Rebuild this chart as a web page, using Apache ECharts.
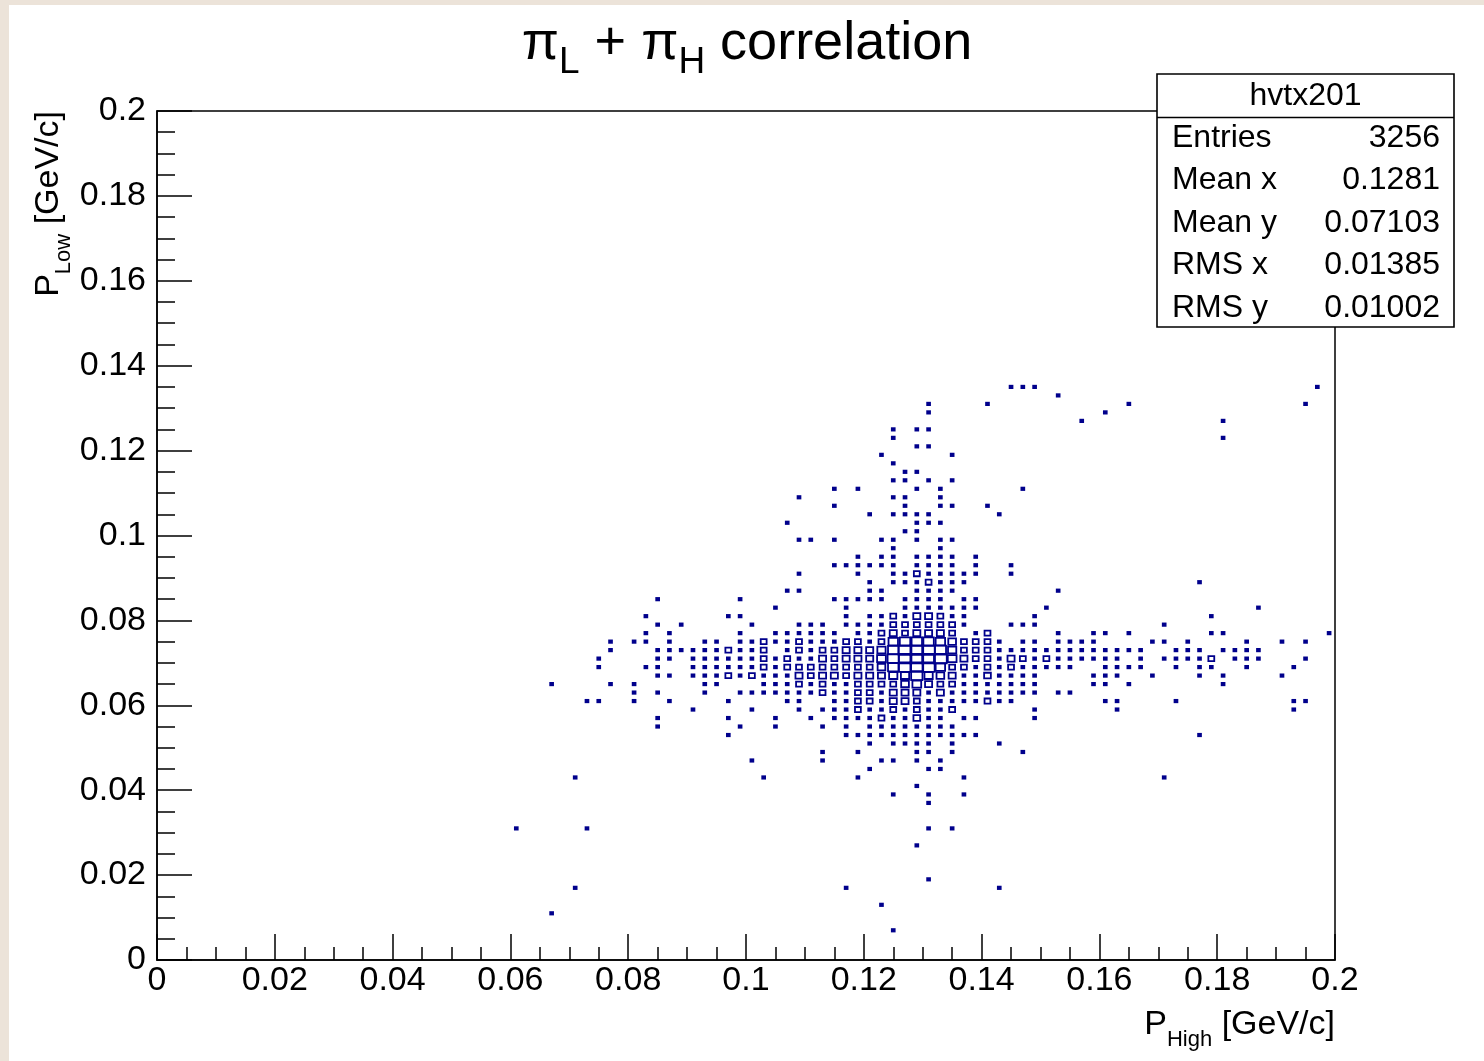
<!DOCTYPE html>
<html>
<head>
<meta charset="utf-8">
<title>pi_L + pi_H correlation</title>
<script src="https://cdn.jsdelivr.net/npm/echarts@6/dist/echarts.min.js"></script>
<style>
  html, body { margin: 0; padding: 0; background: #fff; }
  #main { width: 1484px; height: 1061px; }
</style>
</head>
<body>
<div id="main"></div>
<script>
const FONT = '"Liberation Sans", Arial, Helvetica, sans-serif';
const NAVY = '#00008c';

// 2D histogram hvtx201: 100 x 100 bins on [0, 0.2] x [0, 0.2] GeV/c
const binWidth = 0.002;
const zMax = 50; // content of the fullest cell

// cells with one entry, per P_Low bin: [iy, [ix, ...]]
const singleCells = [
  [67, [72, 73, 74, 98]],
  [66, [76]],
  [65, [65, 70, 82, 97]],
  [64, [65, 80]],
  [63, [78, 90]],
  [62, [62, 64, 65]],
  [61, [62, 90]],
  [60, [64, 65]],
  [59, [61, 67]],
  [58, [62]],
  [57, [63, 64]],
  [56, [62, 63, 65, 67]],
  [55, [57, 59, 64, 66, 73]],
  [54, [54, 62, 63, 66]],
  [53, [57, 63, 66, 67, 70]],
  [52, [60, 62, 63, 64, 65, 71]],
  [51, [53, 64, 65, 66]],
  [50, [63, 64]],
  [49, [54, 55, 57, 61, 62, 64, 66, 67]],
  [48, [62, 66]],
  [47, [59, 61, 62, 64, 65, 66, 67, 69]],
  [46, [57, 58, 59, 60, 61, 62, 64, 65, 66, 67, 69, 72]],
  [45, [54, 59, 62, 63, 65, 66, 67, 68, 69, 72]],
  [44, [60, 62, 63, 64, 66, 67, 68, 88]],
  [43, [53, 54, 60, 61, 64, 65, 66, 67, 76]],
  [42, [42, 49, 57, 58, 59, 60, 61, 63, 64, 65, 66, 68, 69]],
  [41, [52, 58, 63, 64, 65, 66, 67, 68, 69, 75, 93]],
  [40, [41, 48, 49, 58, 60, 61, 63, 67, 68, 74, 89]],
  [39, [42, 44, 50, 54, 55, 56, 58, 59, 60, 61, 68, 72, 73, 74, 85]],
  [38, [41, 43, 49, 52, 53, 54, 55, 56, 57, 59, 60, 69, 76, 79, 80, 82, 89, 90, 99]],
  [37, [38, 40, 41, 43, 46, 47, 49, 50, 52, 53, 55, 56, 57, 60, 71, 73, 74, 76, 77, 78, 79, 84, 85, 87, 92, 95, 97]],
  [36, [38, 42, 43, 44, 45, 46, 47, 49, 50, 53, 55, 71, 72, 73, 74, 75, 76, 77, 78, 79, 80, 81, 82, 83, 86, 87, 88, 90, 91, 92, 93]],
  [35, [37, 42, 43, 45, 46, 47, 48, 49, 50, 52, 54, 55, 71, 74, 76, 77, 78, 79, 80, 81, 83, 85, 86, 87, 88, 91, 92, 93, 97]],
  [34, [37, 41, 42, 45, 46, 47, 48, 49, 50, 52, 69, 71, 73, 74, 75, 76, 77, 80, 81, 82, 83, 86, 88, 89, 92, 96]],
  [33, [42, 43, 45, 46, 47, 49, 51, 52, 53, 68, 69, 71, 72, 73, 74, 79, 80, 81, 84, 88, 90, 95]],
  [32, [33, 38, 40, 46, 47, 51, 52, 53, 55, 57, 58, 68, 69, 70, 71, 72, 73, 74, 79, 80, 82, 90]],
  [31, [40, 42, 46, 49, 50, 51, 52, 53, 54, 55, 57, 58, 61, 65, 67, 68, 69, 70, 71, 72, 73, 74, 76, 77]],
  [30, [36, 37, 40, 43, 48, 53, 54, 57, 58, 61, 65, 66, 67, 68, 69, 71, 72, 80, 81, 86, 96, 97]],
  [29, [45, 50, 54, 56, 57, 58, 60, 61, 63, 65, 66, 74, 81, 96]],
  [28, [42, 48, 52, 55, 57, 58, 59, 60, 62, 63, 65, 66, 68, 69, 74]],
  [27, [42, 49, 52, 56, 58, 60, 61, 62, 63, 64, 65, 66, 67]],
  [26, [48, 58, 59, 60, 61, 62, 63, 64, 65, 66, 67, 68, 69, 88]],
  [25, [60, 62, 63, 64, 65, 67, 71]],
  [24, [56, 59, 64, 65, 67, 73]],
  [23, [50, 56, 61, 62, 64, 66]],
  [22, [60, 65, 66]],
  [21, [35, 51, 59, 68, 85]],
  [20, [64]],
  [19, [62, 65, 68]],
  [18, [65]],
  [15, [30, 36, 65, 67]],
  [13, [64]],
  [9, [65]],
  [8, [35, 58, 71]],
  [6, [61]],
  [5, [33]],
  [3, [62]]
];

// cells with several entries: [iy, [[ix, entries], ...]]
const multiCells = [
  [45, [[64, 3]]],
  [44, [[65, 3]]],
  [40, [[62, 3], [64, 6], [65, 6], [66, 3]]],
  [39, [[62, 3], [63, 3], [64, 3], [65, 3], [66, 3], [67, 3]]],
  [38, [[61, 3], [62, 6], [63, 3], [64, 6], [65, 6], [66, 6], [67, 3], [70, 3]]],
  [37, [[51, 3], [54, 3], [58, 3], [59, 3], [61, 3], [62, 15], [63, 20], [64, 20], [65, 20], [66, 15], [67, 8], [68, 3], [69, 3], [70, 3]]],
  [36, [[48, 3], [51, 3], [54, 3], [56, 3], [57, 3], [58, 6], [59, 6], [60, 6], [61, 10], [62, 20], [63, 35], [64, 50], [65, 45], [66, 25], [67, 10], [68, 3], [69, 3], [70, 3]]],
  [35, [[51, 3], [53, 3], [56, 6], [57, 3], [58, 6], [59, 6], [60, 6], [61, 12], [62, 25], [63, 40], [64, 50], [65, 48], [66, 35], [67, 12], [68, 6], [69, 3], [70, 3], [72, 6], [73, 3], [75, 3], [89, 3]]],
  [34, [[51, 3], [53, 3], [54, 3], [55, 3], [56, 3], [57, 3], [58, 3], [59, 3], [60, 3], [61, 8], [62, 20], [63, 30], [64, 35], [65, 30], [66, 15], [67, 3], [68, 3], [70, 3], [72, 3]]],
  [33, [[48, 3], [50, 3], [54, 6], [55, 3], [56, 6], [57, 6], [58, 3], [59, 6], [60, 6], [61, 6], [62, 10], [63, 10], [64, 25], [65, 10], [66, 8], [67, 6], [70, 5]]],
  [32, [[54, 3], [56, 3], [59, 3], [60, 3], [61, 3], [62, 3], [63, 8], [64, 12], [65, 6], [66, 3], [67, 3]]],
  [31, [[56, 3], [59, 3], [60, 3], [62, 6], [63, 6], [64, 6], [66, 6]]],
  [30, [[59, 3], [60, 3], [62, 6], [63, 6], [64, 3], [70, 3]]],
  [29, [[59, 3], [62, 3], [64, 3], [67, 3]]],
  [28, [[61, 3], [64, 5]]]
];

// stats box
const histName = 'hvtx201';
const statLabels = ['Entries', 'Mean x', 'Mean y', 'RMS x', 'RMS y'];
const statValues = ['3256', '0.1281', '0.07103', '0.01385', '0.01002'];

// build [pHigh, pLow, entries] from bin indices
const boxData = [];
singleCells.forEach(([iy, list]) => {
  list.forEach(ix => boxData.push([(ix + 0.5) * binWidth, (iy + 0.5) * binWidth, 1]));
});
multiCells.forEach(([iy, list]) => {
  list.forEach(([ix, n]) => boxData.push([(ix + 0.5) * binWidth, (iy + 0.5) * binWidth, n]));
});

// ROOT "box" drawing: box area follows the cell content
function renderBox(params, api) {
  const c = api.coord([api.value(0), api.value(1)]);
  const cell = api.size([binWidth, binWidth]);
  const r = Math.sqrt(api.value(2) / zMax);
  const w = Math.max(3.6, Math.min(cell[0] + 1, cell[0] * r + 3));
  const h = Math.max(3.6, Math.min(cell[1] + 1, cell[1] * r + 3));
  const small = w < 5;
  return {
    type: 'rect',
    shape: { x: c[0] - w / 2, y: c[1] - h / 2, width: w, height: h },
    style: small ? { fill: NAVY } : { fill: 'none', stroke: NAVY, lineWidth: 1.8 }
  };
}

const tickFmt = v => String(+v.toFixed(3));
const axisCommon = {
  type: 'value',
  min: 0,
  max: 0.2,
  interval: 0.02,
  splitLine: { show: false },
  axisLine: { onZero: false, lineStyle: { color: '#000', width: 1.5 } }
};

const statRows = [];
statLabels.forEach((lab, k) => {
  const y = 64 + k * 42.5;
  statRows.push({ type: 'text', x: 15, y: y, style: { text: lab, fontSize: 32, fontFamily: FONT, fill: '#000', align: 'left', verticalAlign: 'middle' } });
  statRows.push({ type: 'text', x: 283, y: y, style: { text: statValues[k], fontSize: 32, fontFamily: FONT, fill: '#000', align: 'right', verticalAlign: 'middle' } });
});

const chart = echarts.init(document.getElementById('main'));
chart.setOption({
  animation: false,
  backgroundColor: '#fff',
  grid: { left: 157, right: 149, top: 111, bottom: 101, show: true, borderColor: '#000', borderWidth: 1.5 },
  xAxis: Object.assign({}, axisCommon, {
    axisTick: { inside: true, length: 26, lineStyle: { color: '#000', width: 1.5 } },
    minorTick: { show: true, splitNumber: 4, length: 13, lineStyle: { color: '#000', width: 1.5 } },
    axisLabel: { fontSize: 34, fontFamily: FONT, color: '#000', margin: 4, formatter: tickFmt }
  }),
  yAxis: Object.assign({}, axisCommon, {
    axisTick: { inside: true, length: 35, lineStyle: { color: '#000', width: 1.5 } },
    minorTick: { show: true, splitNumber: 4, length: 18, lineStyle: { color: '#000', width: 1.5 } },
    axisLabel: { fontSize: 34, fontFamily: FONT, color: '#000', margin: 11, formatter: tickFmt }
  }),
  series: [{
    type: 'custom',
    renderItem: renderBox,
    encode: { x: 0, y: 1 },
    data: boxData,
    silent: true
  }],
  graphic: [
    // screen background around the canvas
    { type: 'rect', x: 0, y: 0, shape: { width: 9, height: 1061 }, style: { fill: '#ece3d9' } },
    { type: 'rect', x: 0, y: 0, shape: { width: 1484, height: 5 }, style: { fill: '#ece3d9' } },
    {
      type: 'text', x: 747, y: 81,
      style: {
        text: '{t|π}{s|L}{t| + π}{s|H}{t| correlation}',
        align: 'center', verticalAlign: 'bottom', fill: '#000', fontFamily: FONT,
        rich: {
          t: { fontSize: 54, fontFamily: FONT, padding: [0, 0, 10, 0], verticalAlign: 'bottom' },
          s: { fontSize: 37, fontFamily: FONT, verticalAlign: 'bottom' }
        }
      }
    },
    {
      type: 'text', x: 1335, y: 1051,
      style: {
        text: '{p|P}{s|High}{p| [GeV/c]}',
        align: 'right', verticalAlign: 'bottom', fill: '#000', fontFamily: FONT,
        rich: {
          p: { fontSize: 34, fontFamily: FONT, padding: [0, 0, 9, 0], verticalAlign: 'bottom' },
          s: { fontSize: 22, fontFamily: FONT, verticalAlign: 'bottom' }
        }
      }
    },
    {
      type: 'text', x: 75, y: 111, rotation: Math.PI / 2,
      style: {
        text: '{p|P}{s|Low}{p| [GeV/c]}',
        align: 'right', verticalAlign: 'bottom', fill: '#000', fontFamily: FONT,
        rich: {
          p: { fontSize: 34, fontFamily: FONT, padding: [0, 0, 9, 0], verticalAlign: 'bottom' },
          s: { fontSize: 22, fontFamily: FONT, verticalAlign: 'bottom' }
        }
      }
    },
    {
      type: 'group', x: 1157, y: 74,
      children: [
        { type: 'rect', shape: { x: 0, y: 0, width: 297, height: 253 }, style: { fill: '#fff', stroke: '#000', lineWidth: 1.6 } },
        { type: 'line', shape: { x1: 0, y1: 43.5, x2: 297, y2: 43.5 }, style: { stroke: '#000', lineWidth: 1.6 } },
        { type: 'text', x: 148.5, y: 22, style: { text: histName, fontSize: 32, fontFamily: FONT, fill: '#000', align: 'center', verticalAlign: 'middle' } }
      ].concat(statRows)
    }
  ]
});
</script>
</body>
</html>
